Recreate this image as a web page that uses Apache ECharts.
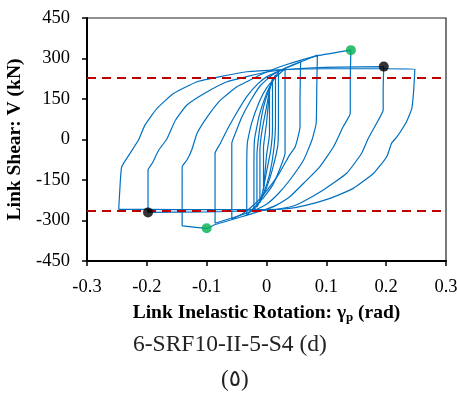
<!DOCTYPE html>
<html>
<head>
<meta charset="utf-8">
<script src="https://cdn.jsdelivr.net/npm/echarts@6/dist/echarts.min.js"></script>
<style>
  html, body { margin: 0; padding: 0; background: #fff; }
  #chart { width: 457px; height: 394px; }
</style>
</head>
<body>
<div id="chart"></div>
<script>
// Link rotation (rad) vs link shear (kN), one closed cycle per amplitude.
const loop0005 = [[-0.005,-190],[-0.005,-30],[0.0,60],[0.005,180],[0.005,20],[0.0,-60],[-0.005,-190]];
const loop001 = [[-0.011,-235],[-0.011,-40],[-0.007,40],[0.0,120],[0.005,180],[0.010,225],
                 [0.010,40],[0.007,-40],[0.0,-120],[-0.005,-180],[-0.011,-235]];
const loop0015 = [[-0.016,-250],[-0.016,-60],[-0.012,30],[-0.005,120],[0.005,190],[0.015,240],
                  [0.015,60],[0.012,-40],[0.005,-130],[-0.005,-200],[-0.016,-250]];
const loop002 = [[-0.021,-262],[-0.021,-100],[-0.020,0],[-0.012,90],[0.0,170],[0.010,215],[0.020,250],
                 [0.020,100],[0.019,-20],[0.010,-110],[0.0,-180],[-0.010,-225],[-0.021,-262]];
const loop003 = [[-0.033,-280],[-0.033,-120],[-0.032,-13],[-0.025,60],[-0.012,140],[0.0,190],[0.015,230],[0.031,262],
                 [0.031,100],[0.031,-51],[0.022,-110],[0.010,-170],[-0.005,-215],[-0.020,-250],[-0.033,-280]];
const loop006 = [[-0.058,-295],[-0.058,-150],[-0.058,-14],[-0.052,23],[-0.041,84],[-0.025,150],[-0.010,200],[0.010,240],[0.035,268],[0.057,288],
                 [0.056,150],[0.056,47],[0.048,-27],[0.039,-56],[0.020,-130],[0.0,-190],[-0.020,-240],[-0.040,-275],[-0.058,-295]];
const loop0085 = [[-0.086,-310],[-0.086,-180],[-0.086,-51],[-0.077,-14],[-0.066,35],[-0.052,91],[-0.033,159],[-0.015,205],[0.0,232],[0.030,262],[0.060,290],[0.085,313],
                  [0.084,190],[0.083,60],[0.076,-2],[0.062,-76],[0.039,-150],[0.020,-200],[0.0,-240],[-0.020,-262],[-0.050,-285],[-0.086,-310]];
const loop014 = [[-0.141,-320],[-0.141,-210],[-0.141,-101],[-0.133,-76],[-0.125,-39],[-0.116,23],[-0.099,84],[-0.077,146],[-0.049,196],[-0.033,214],[-0.010,240],[0.030,275],[0.085,310],[0.141,331],
                 [0.140,220],[0.140,97],[0.128,47],[0.112,-27],[0.089,-101],[0.062,-162],[0.039,-212],[0.015,-245],[0.0,-258],[-0.040,-285],[-0.086,-315],[-0.100,-329],[-0.141,-320]];
const loop020 = [[-0.198,-270],[-0.198,-190],[-0.198,-113],[-0.191,-88],[-0.180,-39],[-0.166,4],[-0.152,72],[-0.133,128],[-0.099,177],[-0.066,214],[-0.033,233],[0.0,250],[0.050,262],[0.120,268],[0.196,270],
                 [0.195,190],[0.195,109],[0.187,72],[0.170,4],[0.159,-51],[0.134,-125],[0.095,-187],[0.056,-236],[0.039,-250],[0.0,-262],[-0.100,-268],[-0.198,-270]];
const loop025 = [[-0.247,-259],[-0.245,-180],[-0.242,-101],[-0.228,-51],[-0.214,-2],[-0.203,54],[-0.183,115],[-0.155,171],[-0.116,214],[-0.077,233],[-0.033,251],[0.020,258],[0.100,262],[0.200,262],[0.248,261],
                 [0.246,183],[0.243,116],[0.234,66],[0.218,10],[0.209,-14],[0.201,-64],[0.179,-125],[0.145,-181],[0.106,-218],[0.067,-243],[0.039,-255],[0.0,-260],[-0.100,-260],[-0.200,-259],[-0.247,-259]];

const cycles = [loop0005, loop001, loop0015, loop002, loop003, loop006, loop0085, loop014, loop020, loop025];

// Peak shear markers and reference shear levels
const peakShear = [[0.141, 331], [-0.100, -329]];
const designShear = [[0.196, 270], [-0.198, -270]];
const shearLevels = [230, -264];

const xTicks = { min: -0.3, max: 0.3, step: 0.1 };
const yTicks = { min: -450, max: 450, step: 150 };

const serif = 'Liberation Serif';
const blue = '#0070C0';

const series = cycles.map((c, i) => ({
  type: 'line',
  data: c,
  showSymbol: false,
  silent: true,
  smooth: 0.15,
  lineStyle: { color: blue, width: 1.2 },
  z: 2,
  markLine: i === 0 ? {
    silent: true,
    symbol: 'none',
    label: { show: false },
    lineStyle: { color: '#C00000', width: 2.2, type: [9, 6] },
    data: shearLevels.map(v => ({ yAxis: v }))
  } : undefined
}));

series.push({
  type: 'scatter', data: peakShear, symbolSize: 10,
  itemStyle: { color: '#00B050' }, z: 5
});
series.push({
  type: 'scatter', data: designShear, symbolSize: 10,
  itemStyle: { color: '#000000' }, z: 5
});

const chart = echarts.init(document.getElementById('chart'), null, { renderer: 'canvas' });
chart.setOption({
  animation: false,
  backgroundColor: '#fff',
  grid: { left: 87, right: 11, top: 18, bottom: 133, show: true, borderColor: '#222', borderWidth: 1.2,
          containLabel: false, outerBoundsMode: 'none' },
  xAxis: {
    type: 'value', min: xTicks.min, max: xTicks.max, interval: xTicks.step,
    splitLine: { show: false },
    axisLine: { onZero: false, lineStyle: { color: '#000', width: 2 } },
    axisTick: { show: true, inside: false, length: 5, lineStyle: { color: '#000', width: 1.5 } },
    axisLabel: { color: '#000', fontFamily: serif, fontSize: 18.5, margin: 17,
      formatter: v => (Math.abs(v) < 1e-9 ? '0' : (+v.toFixed(1)).toString()) },
    name: '{b|Link Inelastic Rotation: γ}{s|p}{b| (rad)}',
    nameLocation: 'middle', nameGap: 39,
    nameTextStyle: {
      rich: {
        b: { fontFamily: serif, fontWeight: 'bold', fontSize: 19.5, color: '#000', lineHeight: 22 },
        s: { fontFamily: serif, fontWeight: 'bold', fontSize: 13, color: '#000', lineHeight: 22, padding: [9, 0, 0, 0] }
      }
    }
  },
  yAxis: {
    type: 'value', min: yTicks.min, max: yTicks.max, interval: yTicks.step,
    splitLine: { show: false },
    axisLine: { onZero: false, lineStyle: { color: '#000', width: 2 } },
    axisTick: { show: true, inside: false, length: 5, lineStyle: { color: '#000', width: 1.5 } },
    axisLabel: { color: '#000', fontFamily: serif, fontSize: 18.5, margin: 17 },
    name: 'Link Shear: V (kN)',
    nameLocation: 'middle', nameGap: 55,
    nameTextStyle: { fontFamily: serif, fontWeight: 'bold', fontSize: 19.5, color: '#000' }
  },
  graphic: [
    { type: 'text', left: 133, top: 333,
      style: { text: '6-SRF10-II-5-S4 (d)', font: '23.5px "Liberation Serif"', fill: '#222' } },
    { type: 'text', left: 221, top: 368,
      style: { text: '(٥)', font: '23px "Liberation Serif", "DejaVu Sans"', fill: '#222' } }
  ],
  series
});
</script>
</body>
</html>
